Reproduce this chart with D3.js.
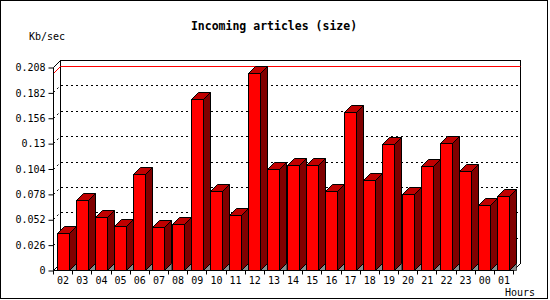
<!DOCTYPE html>
<html>
<head>
<meta charset="utf-8">
<script src="https://cdn.jsdelivr.net/npm/d3@7"></script>
<style>
  html, body { margin: 0; padding: 0; background: #fff; }
  svg { display: block; }
  text { font-family: "DejaVu Sans Mono", monospace; font-size: 10px; fill: #000; }
</style>
</head>
<body>
<svg id="chart" width="550" height="300"></svg>
<script>
// ---- data ----
const hours = ["02","03","04","05","06","07","08","09","10","11","12","13",
               "14","15","16","17","18","19","20","21","22","23","00","01"];
const values = [0.0376, 0.0714, 0.054, 0.0448, 0.098, 0.0437, 0.0468, 0.1749,
                0.0806, 0.056, 0.2015, 0.1032, 0.1073, 0.1073, 0.0806, 0.1619,
                0.0919, 0.1291, 0.0776, 0.1062, 0.1298, 0.1011, 0.0663, 0.0755];
const yTicks = [0, 0.026, 0.052, 0.078, 0.104, 0.13, 0.156, 0.182, 0.208];
const yTickLabels = ["0","0.026","0.052","0.078","0.104","0.13","0.156","0.182","0.208"];
const titleText = "Incoming articles (size)";
const yUnit = "Kb/sec";
const xUnit = "Hours";

// ---- layout ----
const svg = d3.select("#chart");
const pLeft = 53, pRight = 513, pBottom = 270, pTop = 67, depth = 7;
const x = d3.scaleBand().domain(hours).range([pLeft, pRight]).paddingInner(0).paddingOuter(0);
const y = d3.scaleLinear().domain([0, 0.208]).range([pBottom, pTop]);
const barOff = 3.5, barW = 12;

const g = svg.append("g").attr("transform", "translate(0.5,0.5)");

// outer frame
g.append("rect").attr("x", 0).attr("y", 0).attr("width", 547).attr("height", 298)
  .attr("fill", "none").attr("stroke", "#000");

// titles
svg.append("text").attr("x", 274).attr("y", 30).attr("text-anchor", "middle")
  .style("font-weight", "bold").style("font-size", "11.5px").text(titleText);
svg.append("text").attr("x", 29).attr("y", 40).text(yUnit);
svg.append("text").attr("x", 505).attr("y", 296).text(xUnit);

// back wall
const backTop = y(0.208) - depth, backBottom = pBottom - depth;
g.append("path").attr("fill", "none").attr("stroke", "#000").attr("shape-rendering", "crispEdges")
  .attr("d", `M${pLeft + depth},${backBottom}V${backTop}H${pRight + depth}V${backBottom}`);
g.append("path").attr("fill", "none").attr("stroke", "#000")
  .attr("d", `M${pLeft},${y(0.208)}L${pLeft + depth},${backTop}M${pLeft},${pBottom}L${pLeft + depth},${backBottom}M${pRight},${pBottom}L${pRight + depth},${backBottom}`);

// grid lines (dotted) on back wall
const gridVals = yTicks.filter(v => v > 0 && v < 0.208);
g.selectAll(".grid").data(gridVals).enter().append("path")
  .attr("class", "grid").attr("fill", "none").attr("stroke", "#000")
  .attr("stroke-dasharray", "2,3").attr("shape-rendering", "crispEdges")
  .attr("d", d => `M${pLeft + depth},${Math.round(y(d)) - depth}H${pRight + depth}`);
g.selectAll(".gridd").data(gridVals).enter().append("path")
  .attr("class", "gridd").attr("fill", "none").attr("stroke", "#000")
  .attr("stroke-dasharray", "2,3")
  .attr("d", d => `M${pLeft},${Math.round(y(d))}L${pLeft + depth},${Math.round(y(d)) - depth}`);

// max line (red)
const maxV = d3.max(values);
const ym = Math.round(y(maxV));
g.append("path").attr("fill", "none").attr("stroke", "#ff0000")
  .attr("d", `M${pLeft},${ym}L${pLeft + depth},${ym - depth}H${pRight + depth}`);

// bars
const bars = g.selectAll(".bar").data(hours.map((h, i) => ({h, v: values[i]}))).enter()
  .append("g").attr("class", "bar");
bars.each(function(d) {
  const sel = d3.select(this);
  const x0 = Math.round(x(d.h) + barOff), x1 = x0 + barW;
  const yt = Math.round(y(d.v));
  sel.append("path").attr("fill", "#8c8c8c").attr("stroke", "#000").attr("stroke-width", 0.6)
    .attr("d", `M${x1},${pBottom}L${x1 + depth},${pBottom - depth}V${pBottom}Z`);
  sel.append("path").attr("fill", "#800000").attr("stroke", "#000")
    .attr("d", `M${x1},${yt}L${x1 + depth},${yt - depth}V${pBottom - depth}L${x1},${pBottom}Z`);
  sel.append("path").attr("fill", "#c00000").attr("stroke", "#000")
    .attr("d", `M${x0},${yt}L${x0 + depth},${yt - depth}H${x1 + depth}L${x1},${yt}Z`);
  sel.append("rect").attr("x", x0).attr("y", yt).attr("width", barW).attr("height", pBottom - yt)
    .attr("fill", "#ff0000").attr("stroke", "#000");
});

// y axis
const yAxis = d3.axisLeft(y).tickValues(yTicks)
  .tickFormat((d, i) => yTickLabels[i]).tickSize(5).tickPadding(3).tickSizeOuter(0);
const ya = svg.append("g").attr("transform", `translate(${pLeft + 0.5},0.5)`).call(yAxis);
ya.select(".domain").attr("stroke", "#000").attr("d", `M0,${pTop}V${pBottom}`);
ya.selectAll("text").style("font-family", "DejaVu Sans Mono, monospace").style("font-size", "10px");
ya.selectAll(".tick line").attr("stroke", "#000");

// x axis: labels centered in bands, ticks at band boundaries
const xAxis = d3.axisBottom(x).tickSize(0).tickPadding(6).tickSizeOuter(0);
const xa = svg.append("g").attr("transform", `translate(0.5,${pBottom + 0.5})`).call(xAxis);
xa.select(".domain").attr("stroke", "#000").attr("d", `M${pLeft},0H${pRight}`);
xa.selectAll("text").style("font-family", "DejaVu Sans Mono, monospace").style("font-size", "10px");
const bounds = hours.map(h => x(h)).concat([pRight]);
xa.selectAll(".btick").data(bounds).enter().append("line").attr("class", "btick")
  .attr("x1", d => Math.round(d)).attr("x2", d => Math.round(d))
  .attr("y1", 0).attr("y2", 4).attr("stroke", "#000");
</script>
</body>
</html>
